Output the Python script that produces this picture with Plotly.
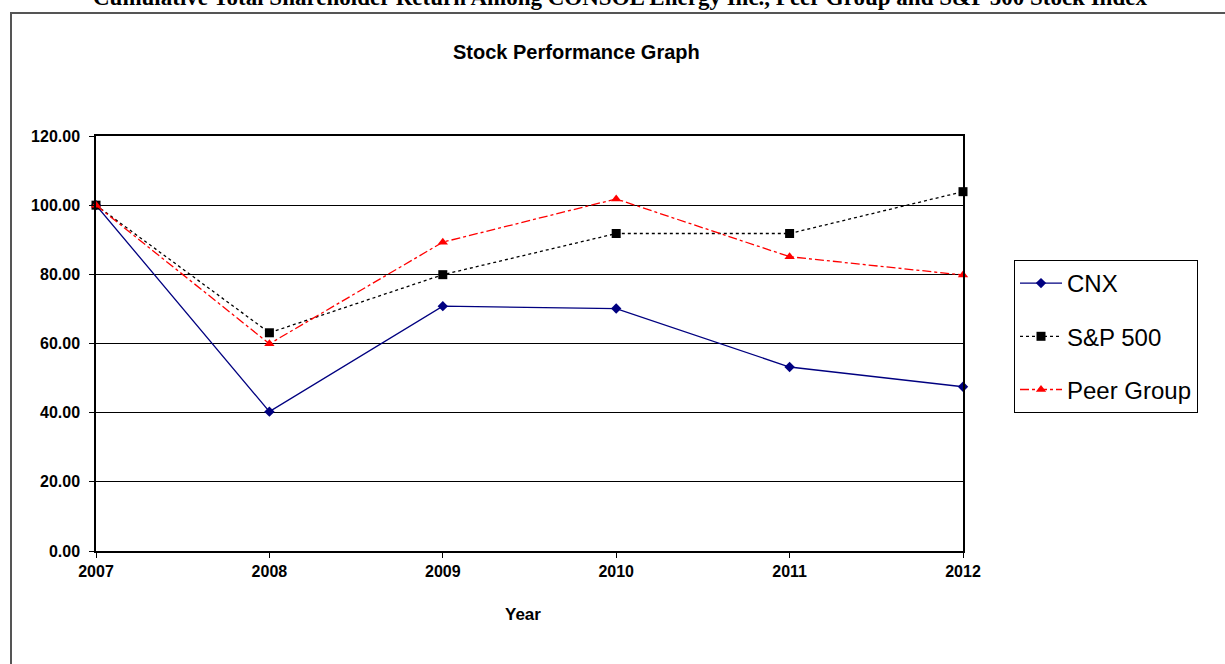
import plotly.graph_objects as go

years = [2007, 2008, 2009, 2010, 2011, 2012]
cnx = [100.0, 40.3, 70.8, 70.1, 53.2, 47.5]
sp500 = [100.0, 63.1, 79.9, 91.8, 91.8, 103.9]
peer = [100.0, 59.9, 89.3, 101.8, 85.1, 79.8]
y_ticks = [0, 20, 40, 60, 80, 100, 120]

W, H = 1225, 664
L, R, T, B = 96, 963, 136, 551


def px(x):
    return (x - L) / (R - L)


def py(y):
    return (B - y) / (B - T)


SANS = "Liberation Sans, Arial, sans-serif"

fig = go.Figure()
fig.add_trace(go.Scatter(
    x=years, y=cnx, name="CNX", mode="lines+markers", legendgroup="a",
    line=dict(color="#000080", width=1.3),
    marker=dict(symbol="diamond", size=8, color="#000080"),
    cliponaxis=False))
fig.add_trace(go.Scatter(
    x=years, y=sp500, name="S&P 500", mode="lines+markers", legendgroup="b",
    line=dict(color="#000000", width=1.3, dash="dot"),
    marker=dict(symbol="square", size=9, color="#000000"),
    cliponaxis=False))
fig.add_trace(go.Scatter(
    x=years, y=peer, name="Peer Group", mode="lines+markers", legendgroup="c",
    line=dict(color="#ff0000", width=1.3, dash="dashdot"),
    marker=dict(symbol="triangle-up", size=9, color="#ff0000"),
    cliponaxis=False))

fig.update_layout(
    width=W, height=H,
    margin=dict(l=L, r=W - R, t=T, b=H - B, pad=0),
    paper_bgcolor="white", plot_bgcolor="white",
    showlegend=True,
    legend=dict(
        x=px(1014), y=py(260), xanchor="left", yanchor="top",
        bordercolor="#000000", borderwidth=1, bgcolor="white",
        font=dict(family=SANS, size=24, color="#000000"),
        tracegroupgap=19, itemwidth=42),
    font=dict(family=SANS, color="#000000"),
)

fig.update_xaxes(
    range=[2007, 2012], tickmode="array", tickvals=years,
    ticktext=[str(y) for y in years],
    showgrid=False, zeroline=False,
    showline=True, linecolor="#000000", linewidth=1.5, mirror=True,
    ticks="outside", ticklen=5, tickcolor="#000000",
    tickfont=dict(family=SANS, size=16, color="#000000", weight="bold"),
)
fig.update_yaxes(
    range=[0, 120], tickmode="array", tickvals=y_ticks,
    ticktext=[f"{v:.2f}" for v in y_ticks],
    showgrid=True, gridcolor="#000000", gridwidth=1.2, zeroline=False,
    showline=True, linecolor="#000000", linewidth=1.5, mirror=True,
    ticks="outside", ticklen=5, tickcolor="#000000", ticklabelstandoff=6,
    tickfont=dict(family=SANS, size=16, color="#000000", weight="bold"),
)

# outer frame
fig.add_shape(type="rect", xref="paper", yref="paper",
              x0=px(11), x1=px(1240), y0=py(700), y1=py(13),
              line=dict(color="#555555", width=2), layer="below")

fig.add_annotation(
    text="<b>Cumulative Total Shareholder Return Among CONSOL Energy Inc., Peer Group and S&P 500 Stock Index</b>",
    xref="paper", yref="paper", x=px(620), y=py(12), xanchor="center", yanchor="bottom",
    showarrow=False,
    font=dict(family="Liberation Serif, Times New Roman, serif", size=23, color="#000000"))
fig.add_annotation(
    text="<b>Stock Performance Graph</b>",
    xref="paper", yref="paper", x=px(576), y=py(52), xanchor="center", yanchor="middle",
    showarrow=False,
    font=dict(family=SANS, size=20, color="#000000"))
fig.add_annotation(
    text="<b>Year</b>",
    xref="paper", yref="paper", x=px(523), y=py(614), xanchor="center", yanchor="middle",
    showarrow=False,
    font=dict(family=SANS, size=17, color="#000000"))

fig.write_html("out.html",
               config={"displayModeBar": False},
               post_script="document.body.style.margin='0';document.body.style.overflow='hidden';")
